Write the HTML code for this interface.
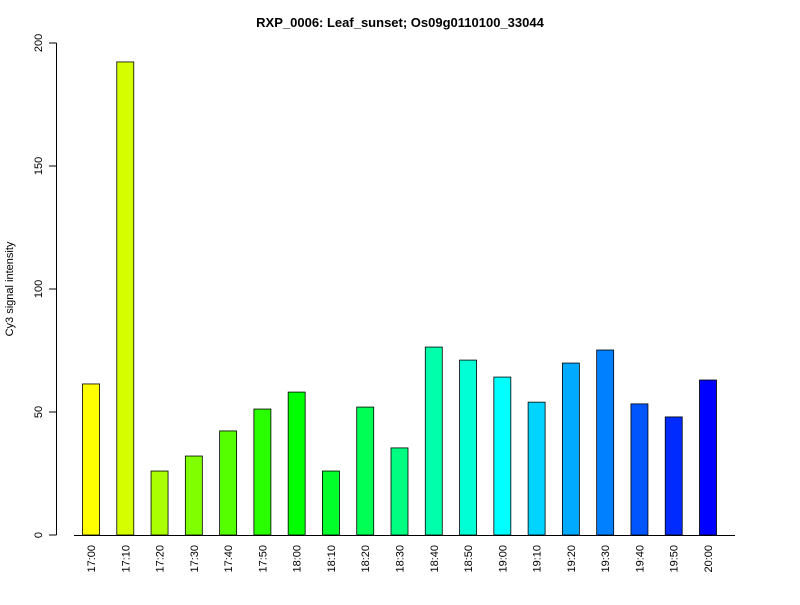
<!DOCTYPE html>
<html><head><meta charset="utf-8"><style>
body{margin:0;background:#fff;}
svg text{font-family:"Liberation Sans",Arial,sans-serif;fill:#000;}
</style></head><body>
<svg id="chart" width="800" height="600" xmlns="http://www.w3.org/2000/svg">
<text x="400" y="27" text-anchor="middle" font-size="13" font-weight="bold">RXP_0006: Leaf_sunset; Os09g0110100_33044</text>
<text transform="translate(13,289) rotate(-90)" text-anchor="middle" font-size="11">Cy3 signal intensity</text>
<g id="bars"></g><g id="axes"></g>
</svg>
<script>
const categories=["17:00","17:10","17:20","17:30","17:40","17:50","18:00","18:10","18:20","18:30","18:40","18:50","19:00","19:10","19:20","19:30","19:40","19:50","20:00"];
const values=[61.4,192.3,26,32.1,42.3,51.2,58.1,26,52,35.4,76.4,71.1,64.2,54,69.9,75.2,53.3,48,63];
const yTicks=[0,50,100,150,200];
const NS="http://www.w3.org/2000/svg";
function y(v){return 535-v*(535-43)/200;}
function x(i){return 91+i*(708-91)/(categories.length-1);}
function mk(t,a,p){const e=document.createElementNS(NS,t);for(const k in a)e.setAttribute(k,a[k]);p.appendChild(e);return e;}
const bars=document.getElementById('bars'),axes=document.getElementById('axes');
categories.forEach((c,i)=>{
  const hue=60+i*180/(categories.length-1);
  const r=mk('rect',{x:x(i)-8.5,y:y(values[i]),width:17,height:y(0)-y(values[i]),fill:`hsl(${hue},100%,50%)`,stroke:'#000','stroke-width':0.8},bars);
  
  
  const t=mk('text',{transform:`translate(${x(i)+4},545) rotate(-90)`,'text-anchor':'end','font-size':11},axes);
  t.textContent=c;
  
  
});
const xl=mk('line',{x1:74,x2:735,y1:535.5,y2:535.5,stroke:'#000'},axes);


const yl=mk('line',{x1:56.5,x2:56.5,y1:y(0),y2:y(200),stroke:'#000'},axes);


yTicks.forEach(v=>{
  const tk=mk('line',{x1:49,x2:56.5,y1:y(v),y2:y(v),stroke:'#000'},axes);
  
  
  const t=mk('text',{transform:`translate(42,${y(v)}) rotate(-90)`,'text-anchor':'middle','font-size':11},axes);
  t.textContent=v;
  
  
});
</script>
</body></html>
